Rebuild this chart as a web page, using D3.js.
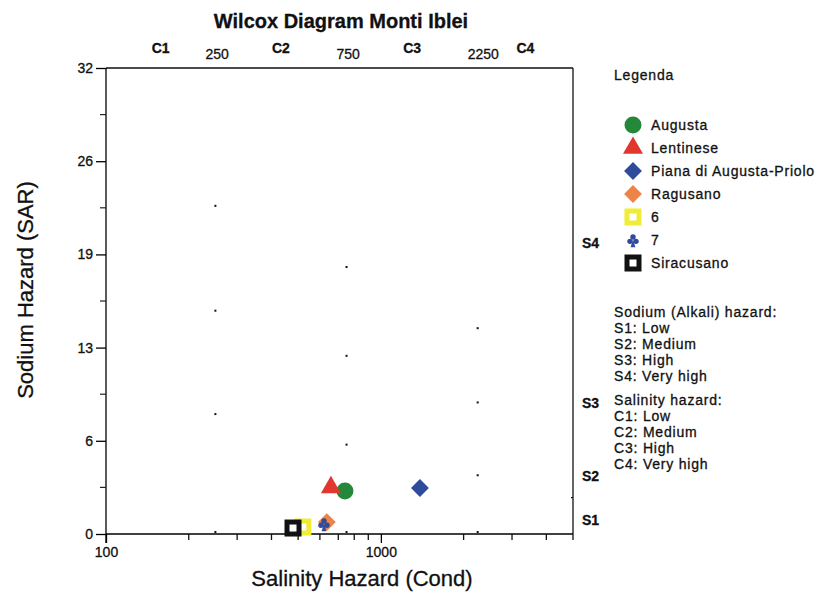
<!DOCTYPE html>
<html>
<head>
<meta charset="utf-8">
<script src="https://cdn.jsdelivr.net/npm/d3@7"></script>
<style>
  body { margin: 0; background: #fff; }
  text { font-family: "Liberation Sans", Arial, sans-serif; fill: #111; stroke: #111; stroke-width: 0.3px; }
  .legend-text { font-size: 14px; letter-spacing: 0.8px; }
</style>
</head>
<body>
<svg id="chart" width="819" height="592"></svg>
<script>
// groups of samples (conductivity, SAR)
var groups = ["Augusta", "Lentinese", "Piana di Augusta-Priolo", "Ragusano", "6", "7", "Siracusano"];
var cond = [740, 658, 1387, 636, 520, 621, 479];
var sar = [2.95, 3.2, 3.16, 0.82, 0.48, 0.69, 0.41];
var colors = ["#23883a", "#e0372f", "#2f4b9b", "#ee8347", "#f1ec35", "#2f4b9b", "#111111"];
var shapes = ["circle", "triangle", "diamond", "diamond", "square", "club", "square"];

// class boundaries and labels
var cBounds = [250, 750, 2250];
var cLabels = ["C1", "C2", "C3", "C4"];
var cLabelCond = [158, 433, 1299, 3354];
var sLabels = ["S1", "S2", "S3", "S4"];
var sLabelSar = [0.95, 4, 9, 20];
var yTicks = [0, 6.4, 12.8, 19.2, 25.6, 32];
var yMinor = [3.2, 9.6, 16, 22.4, 28.8];
var xMinor = [200, 300, 400, 500, 600, 700, 800, 900, 2000, 3000, 4000, 5000];
var xMajor = [100, 1000];

// boundary lines only show as scattered dots
var dotCond = [250, 250, 250, 750, 750, 750, 2250, 2250, 2250, 250, 750, 2250];
var dotSar = [22.5, 15.3, 8.2, 18.3, 12.2, 6.1, 14.1, 9.0, 4.0, 0.1, 0.1, 0.1];

var sodiumText = ["Sodium (Alkali) hazard:", "S1: Low", "S2: Medium", "S3: High", "S4: Very high"];
var salinityText = ["Salinity hazard:", "C1: Low", "C2: Medium", "C3: High", "C4: Very high"];

var svg = d3.select("#chart");
var pL = 106, pR = 573, pT = 68, pB = 534;

var x = d3.scaleLog().domain([100, 5000]).range([pL, pR]);
var y = d3.scaleLinear().domain([0, 32]).range([pB, pT]);

// title
svg.append("text")
    .attr("x", 341).attr("y", 28)
    .attr("text-anchor", "middle")
    .style("font-size", "20px").style("font-weight", "bold")
    .text("Wilcox Diagram Monti Iblei");

// frame lines
svg.append("line").attr("x1", pL).attr("x2", pR).attr("y1", pT).attr("y2", pT)
    .attr("stroke", "#111").attr("stroke-width", 1.3);
svg.append("line").attr("x1", pR).attr("x2", pR).attr("y1", pT).attr("y2", pB)
    .attr("stroke", "#111").attr("stroke-width", 1.3);

// left axis
var yAxis = svg.append("g")
    .attr("transform", "translate(" + pL + ",0)")
    .call(d3.axisLeft(y).tickValues(yTicks).tickSize(10).tickPadding(3).tickFormat(d3.format(".0f")));
yAxis.select(".domain").attr("stroke-width", 1.3).attr("d", "M0," + pT + "V" + (pB + 9));
yAxis.selectAll(".tick line").attr("stroke-width", 1.3);
yAxis.selectAll(".tick text").style("font-size", "14px").style("font-family", "Liberation Sans, Arial")
    .style("fill", "#111").attr("stroke", "#111").attr("stroke-width", 0.5);

svg.append("g").selectAll("line")
    .data(yMinor).enter().append("line")
    .attr("x1", pL - 6).attr("x2", pL)
    .attr("y1", d => y(d)).attr("y2", d => y(d))
    .attr("stroke", "#222").attr("stroke-width", 1.2);

// bottom axis
var xAxis = svg.append("g")
    .attr("transform", "translate(0," + pB + ")")
    .call(d3.axisBottom(x).tickValues(xMajor).tickSize(9).tickPadding(4).tickFormat(d3.format("d")));
xAxis.select(".domain").attr("stroke-width", 1.3).attr("d", "M" + pL + ",0H" + pR);
xAxis.selectAll(".tick line").attr("stroke-width", 1.3);
xAxis.selectAll(".tick text").style("font-size", "14px").style("font-family", "Liberation Sans, Arial")
    .style("fill", "#111").attr("stroke", "#111").attr("stroke-width", 0.5);

svg.append("g").selectAll("line")
    .data(xMinor).enter().append("line")
    .attr("x1", d => x(d)).attr("x2", d => x(d))
    .attr("y1", pB).attr("y2", pB + 6)
    .attr("stroke", "#111").attr("stroke-width", 1.3);

// top labels: boundary values and salinity classes
svg.append("g").selectAll("text")
    .data(cBounds).enter().append("text")
    .attr("x", d => x(d) - 10).attr("y", 59)
    .style("font-size", "14px")
    .text(d => d);
svg.append("g").selectAll("text")
    .data(cLabels).enter().append("text")
    .attr("x", (d, i) => x(cLabelCond[i])).attr("y", 53)
    .attr("text-anchor", "middle")
    .style("font-size", "14px").style("font-weight", "bold")
    .text(d => d);

// right labels: sodium classes
svg.append("g").selectAll("text")
    .data(sLabels).enter().append("text")
    .attr("x", 582).attr("y", (d, i) => y(sLabelSar[i]) + 5)
    .style("font-size", "14px").style("font-weight", "bold")
    .text(d => d);

// boundary dots
svg.append("g").selectAll("rect")
    .data(dotCond).enter().append("rect")
    .attr("x", d => x(d) - 1).attr("y", (d, i) => y(dotSar[i]) - 1.5)
    .attr("width", 2).attr("height", 2)
    .attr("fill", "#111");
svg.append("line").attr("x1", pR - 2).attr("x2", pR).attr("y1", y(2.5)).attr("y2", y(2.5))
    .attr("stroke", "#111").attr("stroke-width", 1.3);

// axis titles
svg.append("text")
    .attr("x", 362).attr("y", 586)
    .attr("text-anchor", "middle")
    .style("font-size", "22px")
    .text("Salinity Hazard (Cond)");
svg.append("text")
    .attr("transform", "translate(33,290) rotate(-90)")
    .attr("text-anchor", "middle")
    .style("font-size", "22px")
    .text("Sodium Hazard (SAR)");

// marker drawing
function drawMarker(g, shape, color, size) {
    if (shape === "square") {
        var s = size * 0.5;
        g.append("rect")
            .attr("x", -s + 2.5).attr("y", -s + 2.5)
            .attr("width", 2 * s - 5).attr("height", 2 * s - 5)
            .attr("fill", "#fff").attr("stroke", color).attr("stroke-width", 5);
    } else if (shape === "club") {
        var r = size * 0.17;
        [[0, -r * 1.1], [-r * 1.1, r * 0.5], [r * 1.1, r * 0.5]].forEach(function(p) {
            g.append("circle").attr("cx", p[0]).attr("cy", p[1]).attr("r", r).attr("fill", color);
        });
        g.append("path")
            .attr("d", "M0,0L" + (-r * 0.9) + "," + (size * 0.45) + "L" + (r * 0.9) + "," + (size * 0.45) + "Z")
            .attr("fill", color);
    } else {
        var type = { circle: d3.symbolCircle, triangle: d3.symbolTriangle, diamond: d3.symbolSquare }[shape];
        var area = { circle: size * size * 0.785, triangle: size * size * 0.6, diamond: size * size * 0.55 }[shape];
        var p = g.append("path")
            .attr("d", d3.symbol().type(type).size(area)())
            .attr("fill", color);
        if (shape === "diamond") p.attr("transform", "rotate(45)");
    }
}

// data markers
var idx = d3.range(groups.length);
var marks = svg.append("g").selectAll("g")
    .data(idx).enter().append("g")
    .attr("transform", i => "translate(" + x(cond[i]) + "," + y(sar[i]) + ")");
marks.each(function(i) {
    drawMarker(d3.select(this), shapes[i], colors[i], shapes[i] === "club" ? 16 : 17);
});

// legend
svg.append("text").attr("class", "legend-text").attr("x", 614).attr("y", 80).text("Legenda");
var leg = svg.append("g").selectAll("g")
    .data(idx).enter().append("g")
    .attr("transform", i => "translate(633," + (125 + i * 23) + ")");
leg.each(function(i) {
    drawMarker(d3.select(this), shapes[i], colors[i], shapes[i] === "club" ? 16 : 17);
});
leg.append("text")
    .attr("class", "legend-text")
    .attr("x", 18).attr("y", 5)
    .text(i => groups[i]);

svg.append("g").selectAll("text")
    .data(sodiumText).enter().append("text")
    .attr("class", "legend-text")
    .attr("x", 614).attr("y", (d, i) => 317 + i * 16)
    .text(d => d);
svg.append("g").selectAll("text")
    .data(salinityText).enter().append("text")
    .attr("class", "legend-text")
    .attr("x", 614).attr("y", (d, i) => 405 + i * 16)
    .text(d => d);
</script>
</body>
</html>
